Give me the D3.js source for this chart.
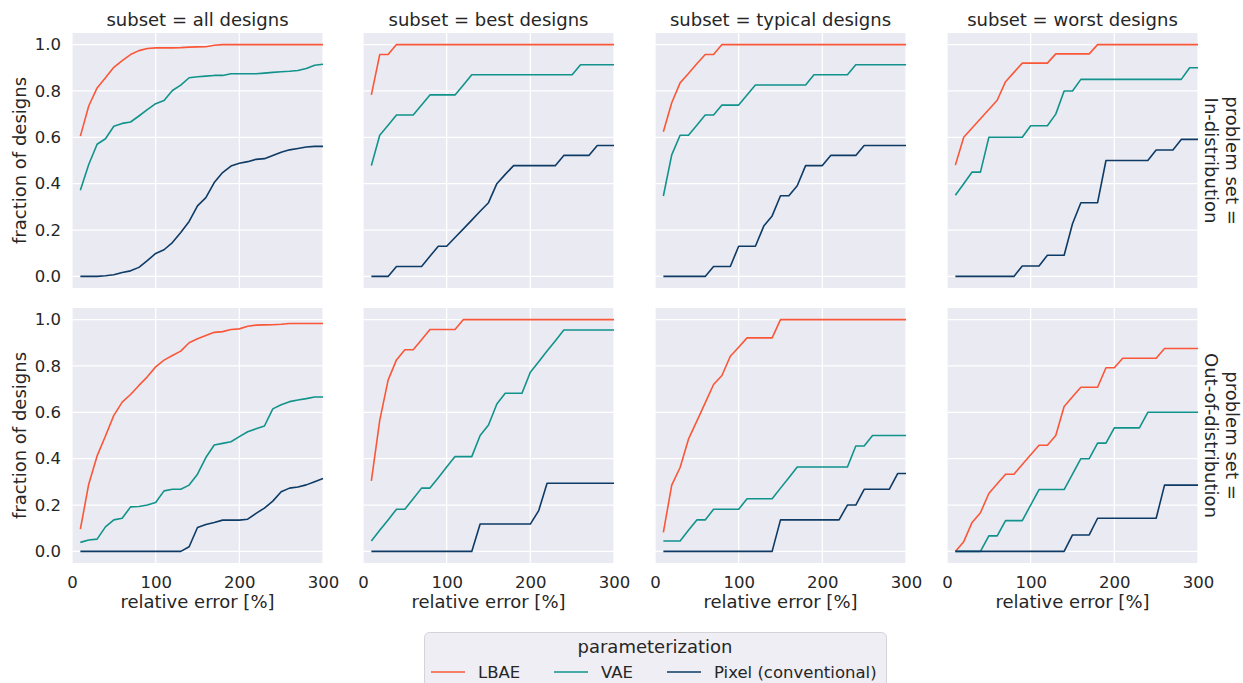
<!DOCTYPE html>
<html>
<head>
<meta charset="utf-8">
<script src="https://cdn.jsdelivr.net/npm/d3@7"></script>
<style>
  html, body { margin: 0; padding: 0; background: #ffffff; }
  svg { display: block; font-family: "DejaVu Sans", sans-serif; }
</style>
</head>
<body>
<svg id="chart" width="1243" height="683"></svg>
<script>
// ---- data -------------------------------------------------------------
const relativeError = [10, 20, 30, 40, 50, 60, 70, 80, 90, 100,
  110, 120, 130, 140, 150, 160, 170, 180, 190, 200,
  210, 220, 230, 240, 250, 260, 270, 280, 290, 300];

const subsets = ["all designs", "best designs", "typical designs", "worst designs"];
const problemSets = ["In-distribution", "Out-of-distribution"];
const parameterizations = ["LBAE", "VAE", "Pixel (conventional)"];
const seriesColors = ["#F95738", "#11938B", "#0D3B66"];
const xTicks = [0, 100, 200, 300];
const yTicks = [0, 0.2, 0.4, 0.6, 0.8, 1.0];

// problem set = In-distribution
const inAllLBAE = [0.605, 0.735, 0.813, 0.857, 0.902, 0.931, 0.957, 0.974, 0.983, 0.986,
  0.986, 0.986, 0.987, 0.989, 0.990, 0.991, 0.997, 1, 1, 1, 1, 1, 1, 1, 1, 1, 1, 1, 1, 1];
const inAllVAE = [0.372, 0.483, 0.570, 0.594, 0.648, 0.660, 0.666, 0.692, 0.719, 0.745,
  0.759, 0.802, 0.825, 0.857, 0.861, 0.864, 0.867, 0.867, 0.874, 0.874,
  0.874, 0.874, 0.877, 0.880, 0.883, 0.885, 0.888, 0.897, 0.911, 0.915];
const inAllPixel = [0, 0, 0, 0.003, 0.007, 0.017, 0.024, 0.039, 0.068, 0.099,
  0.115, 0.146, 0.189, 0.237, 0.304, 0.340, 0.405, 0.448, 0.476, 0.488,
  0.495, 0.505, 0.508, 0.522, 0.536, 0.546, 0.552, 0.558, 0.561, 0.561];

const inBestLBAE = [0.783, 0.957, 0.957, 1, 1, 1, 1, 1, 1, 1,
  1, 1, 1, 1, 1, 1, 1, 1, 1, 1, 1, 1, 1, 1, 1, 1, 1, 1, 1, 1];
const inBestVAE = [0.478, 0.609, 0.652, 0.696, 0.696, 0.696, 0.739, 0.783, 0.783, 0.783,
  0.783, 0.826, 0.870, 0.870, 0.870, 0.870, 0.870, 0.870, 0.870, 0.870,
  0.870, 0.870, 0.870, 0.870, 0.870, 0.913, 0.913, 0.913, 0.913, 0.913];
const inBestPixel = [0, 0, 0, 0.043, 0.043, 0.043, 0.043, 0.087, 0.130, 0.130,
  0.168, 0.205, 0.243, 0.281, 0.318, 0.400, 0.440, 0.478, 0.478, 0.478,
  0.478, 0.478, 0.478, 0.522, 0.522, 0.522, 0.522, 0.565, 0.565, 0.565];

const inTypicalLBAE = [0.624, 0.749, 0.835, 0.875, 0.917, 0.957, 0.957, 1, 1, 1,
  1, 1, 1, 1, 1, 1, 1, 1, 1, 1, 1, 1, 1, 1, 1, 1, 1, 1, 1, 1];
const inTypicalVAE = [0.347, 0.524, 0.609, 0.609, 0.652, 0.696, 0.696, 0.739, 0.739, 0.739,
  0.783, 0.826, 0.826, 0.826, 0.826, 0.826, 0.826, 0.826, 0.870, 0.870,
  0.870, 0.870, 0.870, 0.913, 0.913, 0.913, 0.913, 0.913, 0.913, 0.913];
const inTypicalPixel = [0, 0, 0, 0, 0, 0, 0.043, 0.043, 0.043, 0.130,
  0.130, 0.130, 0.217, 0.261, 0.348, 0.348, 0.391, 0.478, 0.478, 0.478,
  0.522, 0.522, 0.522, 0.522, 0.565, 0.565, 0.565, 0.565, 0.565, 0.565];

const inWorstLBAE = [0.48, 0.60, 0.64, 0.68, 0.72, 0.76, 0.84, 0.88, 0.92, 0.92,
  0.92, 0.92, 0.96, 0.96, 0.96, 0.96, 0.96, 1, 1, 1, 1, 1, 1, 1, 1, 1, 1, 1, 1, 1];
const inWorstVAE = [0.35, 0.40, 0.45, 0.45, 0.60, 0.60, 0.60, 0.60, 0.60, 0.65,
  0.65, 0.65, 0.70, 0.80, 0.80, 0.85, 0.85, 0.85, 0.85, 0.85,
  0.85, 0.85, 0.85, 0.85, 0.85, 0.85, 0.85, 0.85, 0.90, 0.90];
const inWorstPixel = [0, 0, 0, 0, 0, 0, 0, 0, 0.045, 0.045,
  0.045, 0.091, 0.091, 0.091, 0.227, 0.318, 0.318, 0.318, 0.5, 0.5,
  0.5, 0.5, 0.5, 0.5, 0.545, 0.545, 0.545, 0.591, 0.591, 0.591];

// problem set = Out-of-distribution
const outAllLBAE = [0.096, 0.290, 0.412, 0.498, 0.587, 0.644, 0.677, 0.716, 0.753, 0.796,
  0.825, 0.845, 0.864, 0.900, 0.917, 0.931, 0.945, 0.948, 0.957, 0.960,
  0.971, 0.976, 0.977, 0.978, 0.980, 0.983, 0.983, 0.983, 0.983, 0.983];
const outAllVAE = [0.039, 0.049, 0.053, 0.106, 0.136, 0.143, 0.192, 0.194, 0.200, 0.211,
  0.261, 0.268, 0.268, 0.286, 0.333, 0.405, 0.459, 0.466, 0.473, 0.495,
  0.516, 0.529, 0.541, 0.615, 0.633, 0.646, 0.653, 0.659, 0.666, 0.666];
const outAllPixel = [0, 0, 0, 0, 0, 0, 0, 0, 0, 0,
  0, 0, 0, 0.020, 0.103, 0.116, 0.125, 0.135, 0.135, 0.135,
  0.139, 0.164, 0.187, 0.217, 0.257, 0.273, 0.278, 0.287, 0.301, 0.314];

const outBestLBAE = [0.304, 0.565, 0.739, 0.826, 0.870, 0.870, 0.913, 0.957, 0.957, 0.957,
  0.957, 1, 1, 1, 1, 1, 1, 1, 1, 1, 1, 1, 1, 1, 1, 1, 1, 1, 1, 1];
const outBestVAE = [0.045, 0.091, 0.136, 0.182, 0.182, 0.227, 0.273, 0.273, 0.318, 0.364,
  0.409, 0.409, 0.409, 0.500, 0.545, 0.636, 0.682, 0.682, 0.682, 0.773,
  0.818, 0.864, 0.909, 0.955, 0.955, 0.955, 0.955, 0.955, 0.955, 0.955];
const outBestPixel = [0, 0, 0, 0, 0, 0, 0, 0, 0, 0,
  0, 0, 0, 0.118, 0.118, 0.118, 0.118, 0.118, 0.118, 0.118,
  0.176, 0.294, 0.294, 0.294, 0.294, 0.294, 0.294, 0.294, 0.294, 0.294];

const outTypicalLBAE = [0.082, 0.286, 0.362, 0.484, 0.562, 0.641, 0.720, 0.759, 0.842, 0.881,
  0.921, 0.921, 0.921, 0.921, 1, 1, 1, 1, 1, 1, 1, 1, 1, 1, 1, 1, 1, 1, 1, 1];
const outTypicalVAE = [0.045, 0.045, 0.045, 0.091, 0.136, 0.136, 0.182, 0.182, 0.182, 0.182,
  0.227, 0.227, 0.227, 0.227, 0.273, 0.318, 0.364, 0.364, 0.364, 0.364,
  0.364, 0.364, 0.364, 0.455, 0.455, 0.5, 0.5, 0.5, 0.5, 0.5];
const outTypicalPixel = [0, 0, 0, 0, 0, 0, 0, 0, 0, 0,
  0, 0, 0, 0, 0.136, 0.136, 0.136, 0.136, 0.136, 0.136,
  0.136, 0.136, 0.2, 0.2, 0.268, 0.268, 0.268, 0.268, 0.336, 0.336];

const outWorstLBAE = [0, 0.042, 0.125, 0.167, 0.250, 0.292, 0.333, 0.333, 0.375, 0.417,
  0.458, 0.458, 0.500, 0.625, 0.667, 0.708, 0.708, 0.708, 0.792, 0.792,
  0.833, 0.833, 0.833, 0.833, 0.833, 0.875, 0.875, 0.875, 0.875, 0.875];
const outWorstVAE = [0, 0, 0, 0, 0.067, 0.067, 0.133, 0.133, 0.133, 0.200,
  0.267, 0.267, 0.267, 0.267, 0.333, 0.400, 0.400, 0.467, 0.467, 0.533,
  0.533, 0.533, 0.533, 0.600, 0.600, 0.600, 0.600, 0.600, 0.600, 0.600];
const outWorstPixel = [0, 0, 0, 0, 0, 0, 0, 0, 0, 0,
  0, 0, 0, 0, 0.071, 0.071, 0.071, 0.143, 0.143, 0.143,
  0.143, 0.143, 0.143, 0.143, 0.143, 0.286, 0.286, 0.286, 0.286, 0.286];

// rows = problem set, columns = subset, each cell = [LBAE, VAE, Pixel]
const facetSeries = [
  [[inAllLBAE, inAllVAE, inAllPixel], [inBestLBAE, inBestVAE, inBestPixel],
   [inTypicalLBAE, inTypicalVAE, inTypicalPixel], [inWorstLBAE, inWorstVAE, inWorstPixel]],
  [[outAllLBAE, outAllVAE, outAllPixel], [outBestLBAE, outBestVAE, outBestPixel],
   [outTypicalLBAE, outTypicalVAE, outTypicalPixel], [outWorstLBAE, outWorstVAE, outWorstPixel]]
];

// ---- layout -----------------------------------------------------------
const panelLeft = [72, 363, 655, 947];
const panelTop = [33, 308];
const panelW = 251, panelH = 255;
const textColor = "#262626";
const font = "DejaVu Sans, sans-serif";

const svg = d3.select("#chart");

const x = d3.scaleLinear().domain([0, 300]).range([0, panelW]);
const y = d3.scaleLinear().domain([-0.05, 1.05]).range([panelH, 0]);
const line = d3.line().x(d => x(d[0])).y(d => y(d[1]));

problemSets.forEach((ps, r) => {
  subsets.forEach((sub, c) => {
    const g = svg.append("g")
      .attr("transform", `translate(${panelLeft[c]},${panelTop[r]})`);

    g.append("rect").attr("width", panelW).attr("height", panelH)
      .attr("fill", "#EAEAF2");

    // grid
    g.selectAll(".gx").data(xTicks).join("line")
      .attr("x1", d => x(d)).attr("x2", d => x(d))
      .attr("y1", 0).attr("y2", panelH)
      .attr("stroke", "#ffffff").attr("stroke-width", 1.25);
    g.selectAll(".gy").data(yTicks).join("line")
      .attr("y1", d => y(d)).attr("y2", d => y(d))
      .attr("x1", 0).attr("x2", panelW)
      .attr("stroke", "#ffffff").attr("stroke-width", 1.25);

    // series
    facetSeries[r][c].forEach((vals, k) => {
      const pts = relativeError.map((e, i) => [e, vals[i]]);
      g.append("path").datum(pts)
        .attr("d", line)
        .attr("fill", "none")
        .attr("stroke", seriesColors[k])
        .attr("stroke-width", 1.6)
        .attr("stroke-linejoin", "round");
    });

    // column title
    if (r === 0) {
      svg.append("text")
        .attr("x", panelLeft[c] + panelW / 2).attr("y", 26)
        .attr("text-anchor", "middle")
        .attr("font-size", 18).attr("fill", textColor)
        .text(`subset = ${sub}`);
    }

    // y axis on the first column
    if (c === 0) {
      const ay = g.append("g")
        .call(d3.axisLeft(y).tickValues(yTicks).tickFormat(d3.format(".1f"))
          .tickSize(0).tickPadding(11));
      ay.select(".domain").remove();
      ay.selectAll("text").attr("font-size", 16.5).attr("font-family", font)
        .attr("fill", textColor);
      svg.append("text")
        .attr("transform", `translate(26,${panelTop[r] + panelH / 2}) rotate(-90)`)
        .attr("text-anchor", "middle")
        .attr("font-size", 18).attr("fill", textColor)
        .text("fraction of designs");
    }

    // x axis on the bottom row
    if (r === problemSets.length - 1) {
      const ax = g.append("g").attr("transform", `translate(0,${panelH})`)
        .call(d3.axisBottom(x).tickValues(xTicks).tickSize(0).tickPadding(13));
      ax.select(".domain").remove();
      ax.selectAll("text").attr("font-size", 16.5).attr("font-family", font)
        .attr("fill", textColor);
      svg.append("text")
        .attr("x", panelLeft[c] + panelW / 2).attr("y", panelTop[r] + panelH + 45)
        .attr("text-anchor", "middle")
        .attr("font-size", 18).attr("fill", textColor)
        .text("relative error [%]");
    }
  });

  // row label on the right margin
  const rl = svg.append("text")
    .attr("transform", `translate(1226,${panelTop[r] + panelH / 2}) rotate(90)`)
    .attr("text-anchor", "middle")
    .attr("font-size", 18).attr("fill", textColor);
  rl.append("tspan").attr("x", 0).attr("y", 0).text("problem set =");
  rl.append("tspan").attr("x", 0).attr("y", 21).text(ps);
});

// ---- legend -----------------------------------------------------------
const legend = svg.append("g");
legend.append("rect")
  .attr("x", 424.5).attr("y", 632.5).attr("width", 462).attr("height", 70)
  .attr("rx", 5)
  .attr("fill", "#EEEEF4").attr("stroke", "#D4D4D8").attr("stroke-width", 1);
legend.append("text")
  .attr("x", 655).attr("y", 653)
  .attr("text-anchor", "middle")
  .attr("font-size", 18).attr("fill", textColor)
  .text("parameterization");

const entryX = [431, 554, 667];
parameterizations.forEach((p, k) => {
  legend.append("line")
    .attr("x1", entryX[k]).attr("x2", entryX[k] + 34)
    .attr("y1", 672).attr("y2", 672)
    .attr("stroke", seriesColors[k]).attr("stroke-width", 1.6);
  legend.append("text")
    .attr("x", entryX[k] + 47).attr("y", 678)
    .attr("font-size", 16.5).attr("fill", textColor)
    .text(p);
});
</script>
</body>
</html>
